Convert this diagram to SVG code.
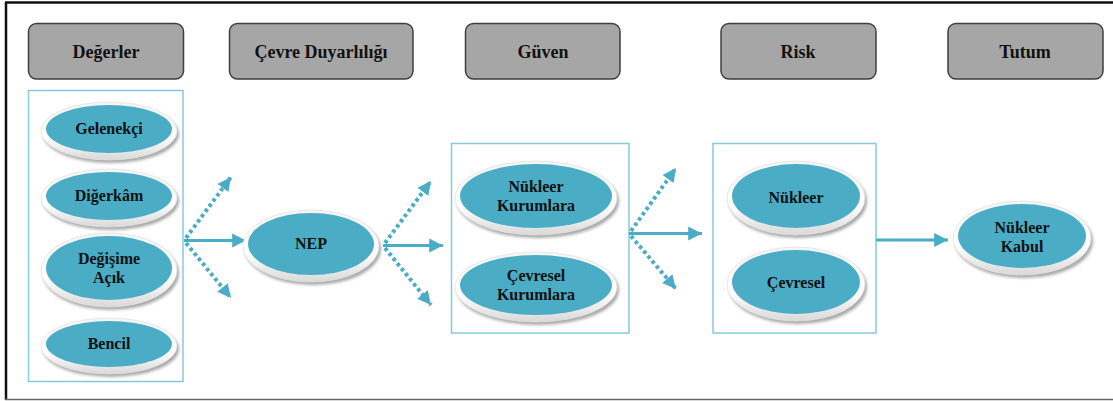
<svg xmlns="http://www.w3.org/2000/svg" width="1113" height="401" viewBox="0 0 1113 401">
  <style>
    .hdr rect { fill: #a6a6a6; stroke: #3f3f3f; stroke-width: 1.5; }
    .hdr text { font-weight: bold; font-size: 18px; fill: #111; text-anchor: middle; }
    .grp { fill: #ffffff; stroke: #86c9db; stroke-width: 1.5; }
    .node .shadow { fill: #a9a9a9; filter: url(#soft); }
    .node .rim { fill: url(#rimFill); stroke: #e2e2e2; stroke-width: 0.8; }
    .node .face { fill: #4bacc6; }
    .node text { font-weight: bold; font-size: 16px; fill: #111; text-anchor: middle; }
    .solid { stroke: #4bacc6; stroke-width: 3; fill: none; marker-end: url(#head); }
    .dotted { stroke: #4bacc6; stroke-width: 4; stroke-dasharray: 3.5 3; fill: none; marker-end: url(#headD); }
  </style>
  <defs>
    <filter id="soft" x="-20%" y="-20%" width="140%" height="140%">
      <feGaussianBlur stdDeviation="1.6"/>
    </filter>
    <linearGradient id="rimFill" x1="0" y1="0" x2="0" y2="1">
      <stop offset="0" stop-color="#f4f4f4"/>
      <stop offset="0.6" stop-color="#ffffff"/>
      <stop offset="1" stop-color="#d9d9d9"/>
    </linearGradient>
    <marker id="head" viewBox="0 0 10 10" refX="10" refY="5" markerWidth="4.6" markerHeight="4.8" orient="auto" markerUnits="strokeWidth">
      <path d="M0,0 L10,5 L0,10 Z" fill="#4bacc6"/>
    </marker>
    <marker id="headD" viewBox="0 0 10 10" refX="10" refY="5" markerWidth="3.4" markerHeight="3.6" orient="auto" markerUnits="strokeWidth">
      <path d="M0,0 L10,5 L0,10 Z" fill="#4bacc6"/>
    </marker>
  </defs>

  <!-- page frame -->
  <rect x="0" y="0" width="1113" height="401" fill="#ffffff"/>
  <line x1="5" y1="2.5" x2="1113" y2="2.5" stroke="#111" stroke-width="2.5"/>
  <line x1="6" y1="2" x2="6" y2="400" stroke="#111" stroke-width="2.5"/>
  <line x1="5" y1="399.5" x2="1113" y2="399.5" stroke="#666" stroke-width="1.5"/>

  <g font-family="'Liberation Serif', 'Times New Roman', Times, serif">
  <!-- column headers -->
  <g id="hdr-degerler" class="hdr">
    <rect x="28.5" y="23.5" width="155" height="55.5" rx="8"/>
    <text x="106" y="58">Değerler</text>
  </g>
  <g id="hdr-cevre" class="hdr">
    <rect x="229.5" y="23.5" width="183.5" height="55.5" rx="8"/>
    <text x="321" y="58">Çevre Duyarlılığı</text>
  </g>
  <g id="hdr-guven" class="hdr">
    <rect x="465.5" y="23.5" width="154.5" height="55.5" rx="8"/>
    <text x="543" y="58">Güven</text>
  </g>
  <g id="hdr-risk" class="hdr">
    <rect x="721" y="23.5" width="155" height="55.5" rx="8"/>
    <text x="798" y="58">Risk</text>
  </g>
  <g id="hdr-tutum" class="hdr">
    <rect x="948" y="23.5" width="155" height="55.5" rx="8"/>
    <text x="1025" y="58">Tutum</text>
  </g>

  <!-- grouping frames -->
  <g id="box-degerler"><rect class="grp" x="28.5" y="90.5" width="154.5" height="291"/></g>
  <g id="box-guven"><rect class="grp" x="451.5" y="143.5" width="177.5" height="189.5"/></g>
  <g id="box-risk"><rect class="grp" x="713" y="143.5" width="163" height="189.5"/></g>

  <!-- connectors -->
  <g id="connectors">
    <path class="solid" d="M184,240.5 L246,240.5"/>
    <path class="dotted" d="M186,238 L231,177"/>
    <path class="dotted" d="M186,243 L231,298"/>

    <path class="solid" d="M383,245.5 L443,245.5"/>
    <path class="dotted" d="M385,243 L431,181"/>
    <path class="dotted" d="M385,248 L431,305"/>

    <path class="solid" d="M629,233.5 L702,233.5"/>
    <path class="dotted" d="M631,231 L676,168"/>
    <path class="dotted" d="M631,236 L676,289"/>

    <path class="solid" d="M876,240 L948,240"/>
  </g>

  <!-- value nodes -->
  <g id="n-gelenekci" class="node">
    <ellipse class="shadow" cx="111" cy="134" rx="68" ry="29"/>
    <ellipse class="rim" cx="109" cy="131" rx="68" ry="29"/>
    <ellipse class="face" cx="109" cy="129" rx="63" ry="24"/>
    <text x="109" y="134">Gelenekçi</text>
  </g>
  <g id="n-digerkam" class="node">
    <ellipse class="shadow" cx="111" cy="201" rx="68" ry="29"/>
    <ellipse class="rim" cx="109" cy="198" rx="68" ry="29"/>
    <ellipse class="face" cx="109" cy="196" rx="63" ry="24"/>
    <text x="109" y="201">Diğerkâm</text>
  </g>
  <g id="n-degisime" class="node">
    <ellipse class="shadow" cx="111" cy="273" rx="68" ry="37"/>
    <ellipse class="rim" cx="109" cy="270" rx="68" ry="37"/>
    <ellipse class="face" cx="109" cy="268" rx="63" ry="32"/>
    <text x="109" y="264">Değişime</text>
    <text x="109" y="283">Açık</text>
  </g>
  <g id="n-bencil" class="node">
    <ellipse class="shadow" cx="111" cy="349" rx="68" ry="28"/>
    <ellipse class="rim" cx="109" cy="346" rx="68" ry="28"/>
    <ellipse class="face" cx="109" cy="344" rx="63" ry="23"/>
    <text x="109" y="349">Bencil</text>
  </g>

  <!-- environmental sensitivity -->
  <g id="n-nep" class="node">
    <ellipse class="shadow" cx="313" cy="249" rx="68" ry="36"/>
    <ellipse class="rim" cx="311" cy="246" rx="68" ry="36"/>
    <ellipse class="face" cx="311" cy="244" rx="63" ry="31"/>
    <text x="311" y="249">NEP</text>
  </g>

  <!-- trust -->
  <g id="n-nukleer-kurum" class="node">
    <ellipse class="shadow" cx="538" cy="201" rx="81" ry="37"/>
    <ellipse class="rim" cx="536" cy="198" rx="81" ry="37"/>
    <ellipse class="face" cx="536" cy="196" rx="76" ry="32"/>
    <text x="536" y="192">Nükleer</text>
    <text x="536" y="211">Kurumlara</text>
  </g>
  <g id="n-cevresel-kurum" class="node">
    <ellipse class="shadow" cx="538" cy="290" rx="81" ry="35"/>
    <ellipse class="rim" cx="536" cy="287" rx="81" ry="35"/>
    <ellipse class="face" cx="536" cy="285" rx="76" ry="30"/>
    <text x="536" y="281">Çevresel</text>
    <text x="536" y="300">Kurumlara</text>
  </g>

  <!-- risk -->
  <g id="n-nukleer-risk" class="node">
    <ellipse class="shadow" cx="798" cy="201" rx="69" ry="37"/>
    <ellipse class="rim" cx="796" cy="198" rx="69" ry="37"/>
    <ellipse class="face" cx="796" cy="196" rx="64" ry="32"/>
    <text x="796" y="203">Nükleer</text>
  </g>
  <g id="n-cevresel-risk" class="node">
    <ellipse class="shadow" cx="798" cy="287" rx="69" ry="37"/>
    <ellipse class="rim" cx="796" cy="284" rx="69" ry="37"/>
    <ellipse class="face" cx="796" cy="282" rx="64" ry="32"/>
    <text x="796" y="288">Çevresel</text>
  </g>

  <!-- attitude -->
  <g id="n-kabul" class="node">
    <ellipse class="shadow" cx="1024" cy="241" rx="69" ry="37"/>
    <ellipse class="rim" cx="1022" cy="238" rx="69" ry="37"/>
    <ellipse class="face" cx="1022" cy="236" rx="64" ry="32"/>
    <text x="1022" y="233">Nükleer</text>
    <text x="1022" y="252">Kabul</text>
  </g>
  </g>
</svg>
